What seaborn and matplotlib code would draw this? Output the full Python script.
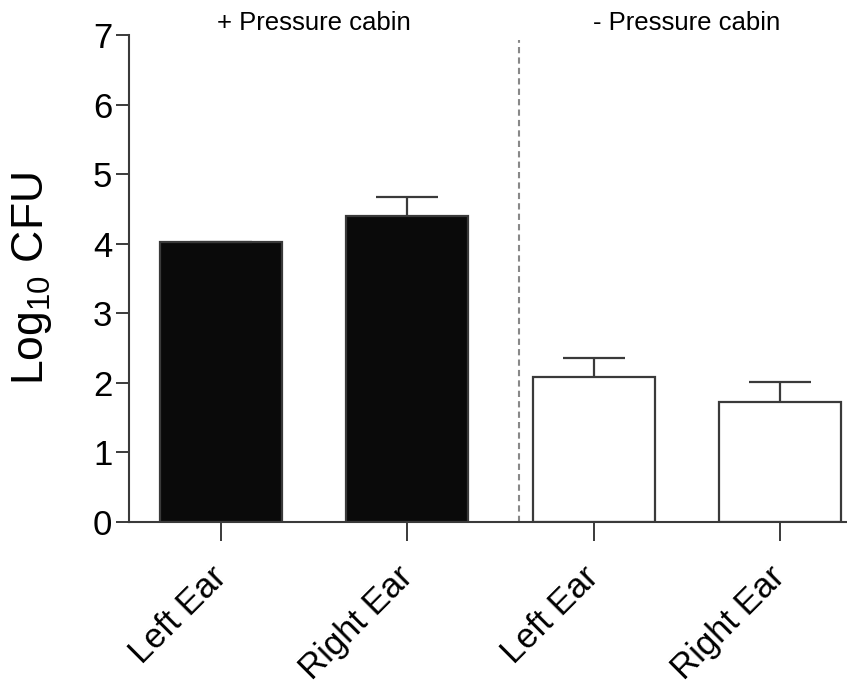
import numpy as np
import pandas as pd
import seaborn as sns
import matplotlib.pyplot as plt

# Data
groups = ["+ Pressure cabin", "+ Pressure cabin", "- Pressure cabin", "- Pressure cabin"]
ears = ["Left Ear", "Right Ear", "Left Ear", "Right Ear"]
log_cfu = [4.03, 4.40, 2.09, 1.72]
sem = [0.0, 0.27, 0.27, 0.29]
group_titles = ["+ Pressure cabin", "- Pressure cabin"]

sns.set_style("ticks")
plt.rcParams['font.family'] = ['Liberation Sans', 'DejaVu Sans']
plt.rcParams['mathtext.default'] = 'regular'

df = pd.DataFrame({"key": [g[0] + " " + e for g, e in zip(groups, ears)],
                   "group": groups, "cfu": log_cfu})

fig = plt.figure(figsize=(8.47, 6.88), dpi=100)
ax = fig.add_axes([0.1523, 0.2413, 0.8477, 0.7078])

edge = "#3a3a3a"
ax = sns.barplot(data=df, x="key", y="cfu", hue="group", dodge=False,
                 palette={group_titles[0]: "#0a0a0a", group_titles[1]: "white"},
                 edgecolor=edge, linewidth=1.6, width=0.655, legend=False, ax=ax)

# upper-only error bars (SEM)
x = np.arange(len(log_cfu))
tops = np.add(log_cfu, sem)
ax.vlines(x, log_cfu, tops, color=edge, linewidth=1.6, zorder=1)
ax.hlines(tops, x - 0.167, x + 0.167, color=edge, linewidth=1.6, zorder=1)

# dashed separator between the two conditions
ax.axvline(1.6, ymax=0.99, color="#888888", linestyle=(0, (3, 2)), linewidth=1.5)

ax.set_xlim(-0.494, 3.36)
ax.set_ylim(0, 7)
ax.set_yticks(range(0, 8))
ax.set_xticks(x, labels=ears)
ax.set_xlabel("")
ax.set_ylabel("Log$_{10}$ CFU", fontsize=32, labelpad=28, color="black")

ax.tick_params(axis="y", labelsize=25, length=9.5, width=1.4, color=edge,
               pad=2.5, labelcolor="black")
ax.tick_params(axis="x", labelsize=25, length=14, width=1.4, color=edge,
               pad=22, labelcolor="black")
for lab in ax.get_xticklabels():
    lab.set_rotation(45)
    lab.set_ha("right")
    lab.set_va("center")
    lab.set_rotation_mode("anchor")

sns.despine(ax=ax)
for side in ["left", "bottom"]:
    ax.spines[side].set_color(edge)
    ax.spines[side].set_linewidth(1.5)

# condition titles above each pair of bars
for i, title in enumerate(group_titles):
    ax.text(2 * i + 0.5, 1.0, title, transform=ax.get_xaxis_transform(),
            ha="center", va="bottom", fontsize=18.5, color="black")

fig.savefig("out.png", dpi=100)
